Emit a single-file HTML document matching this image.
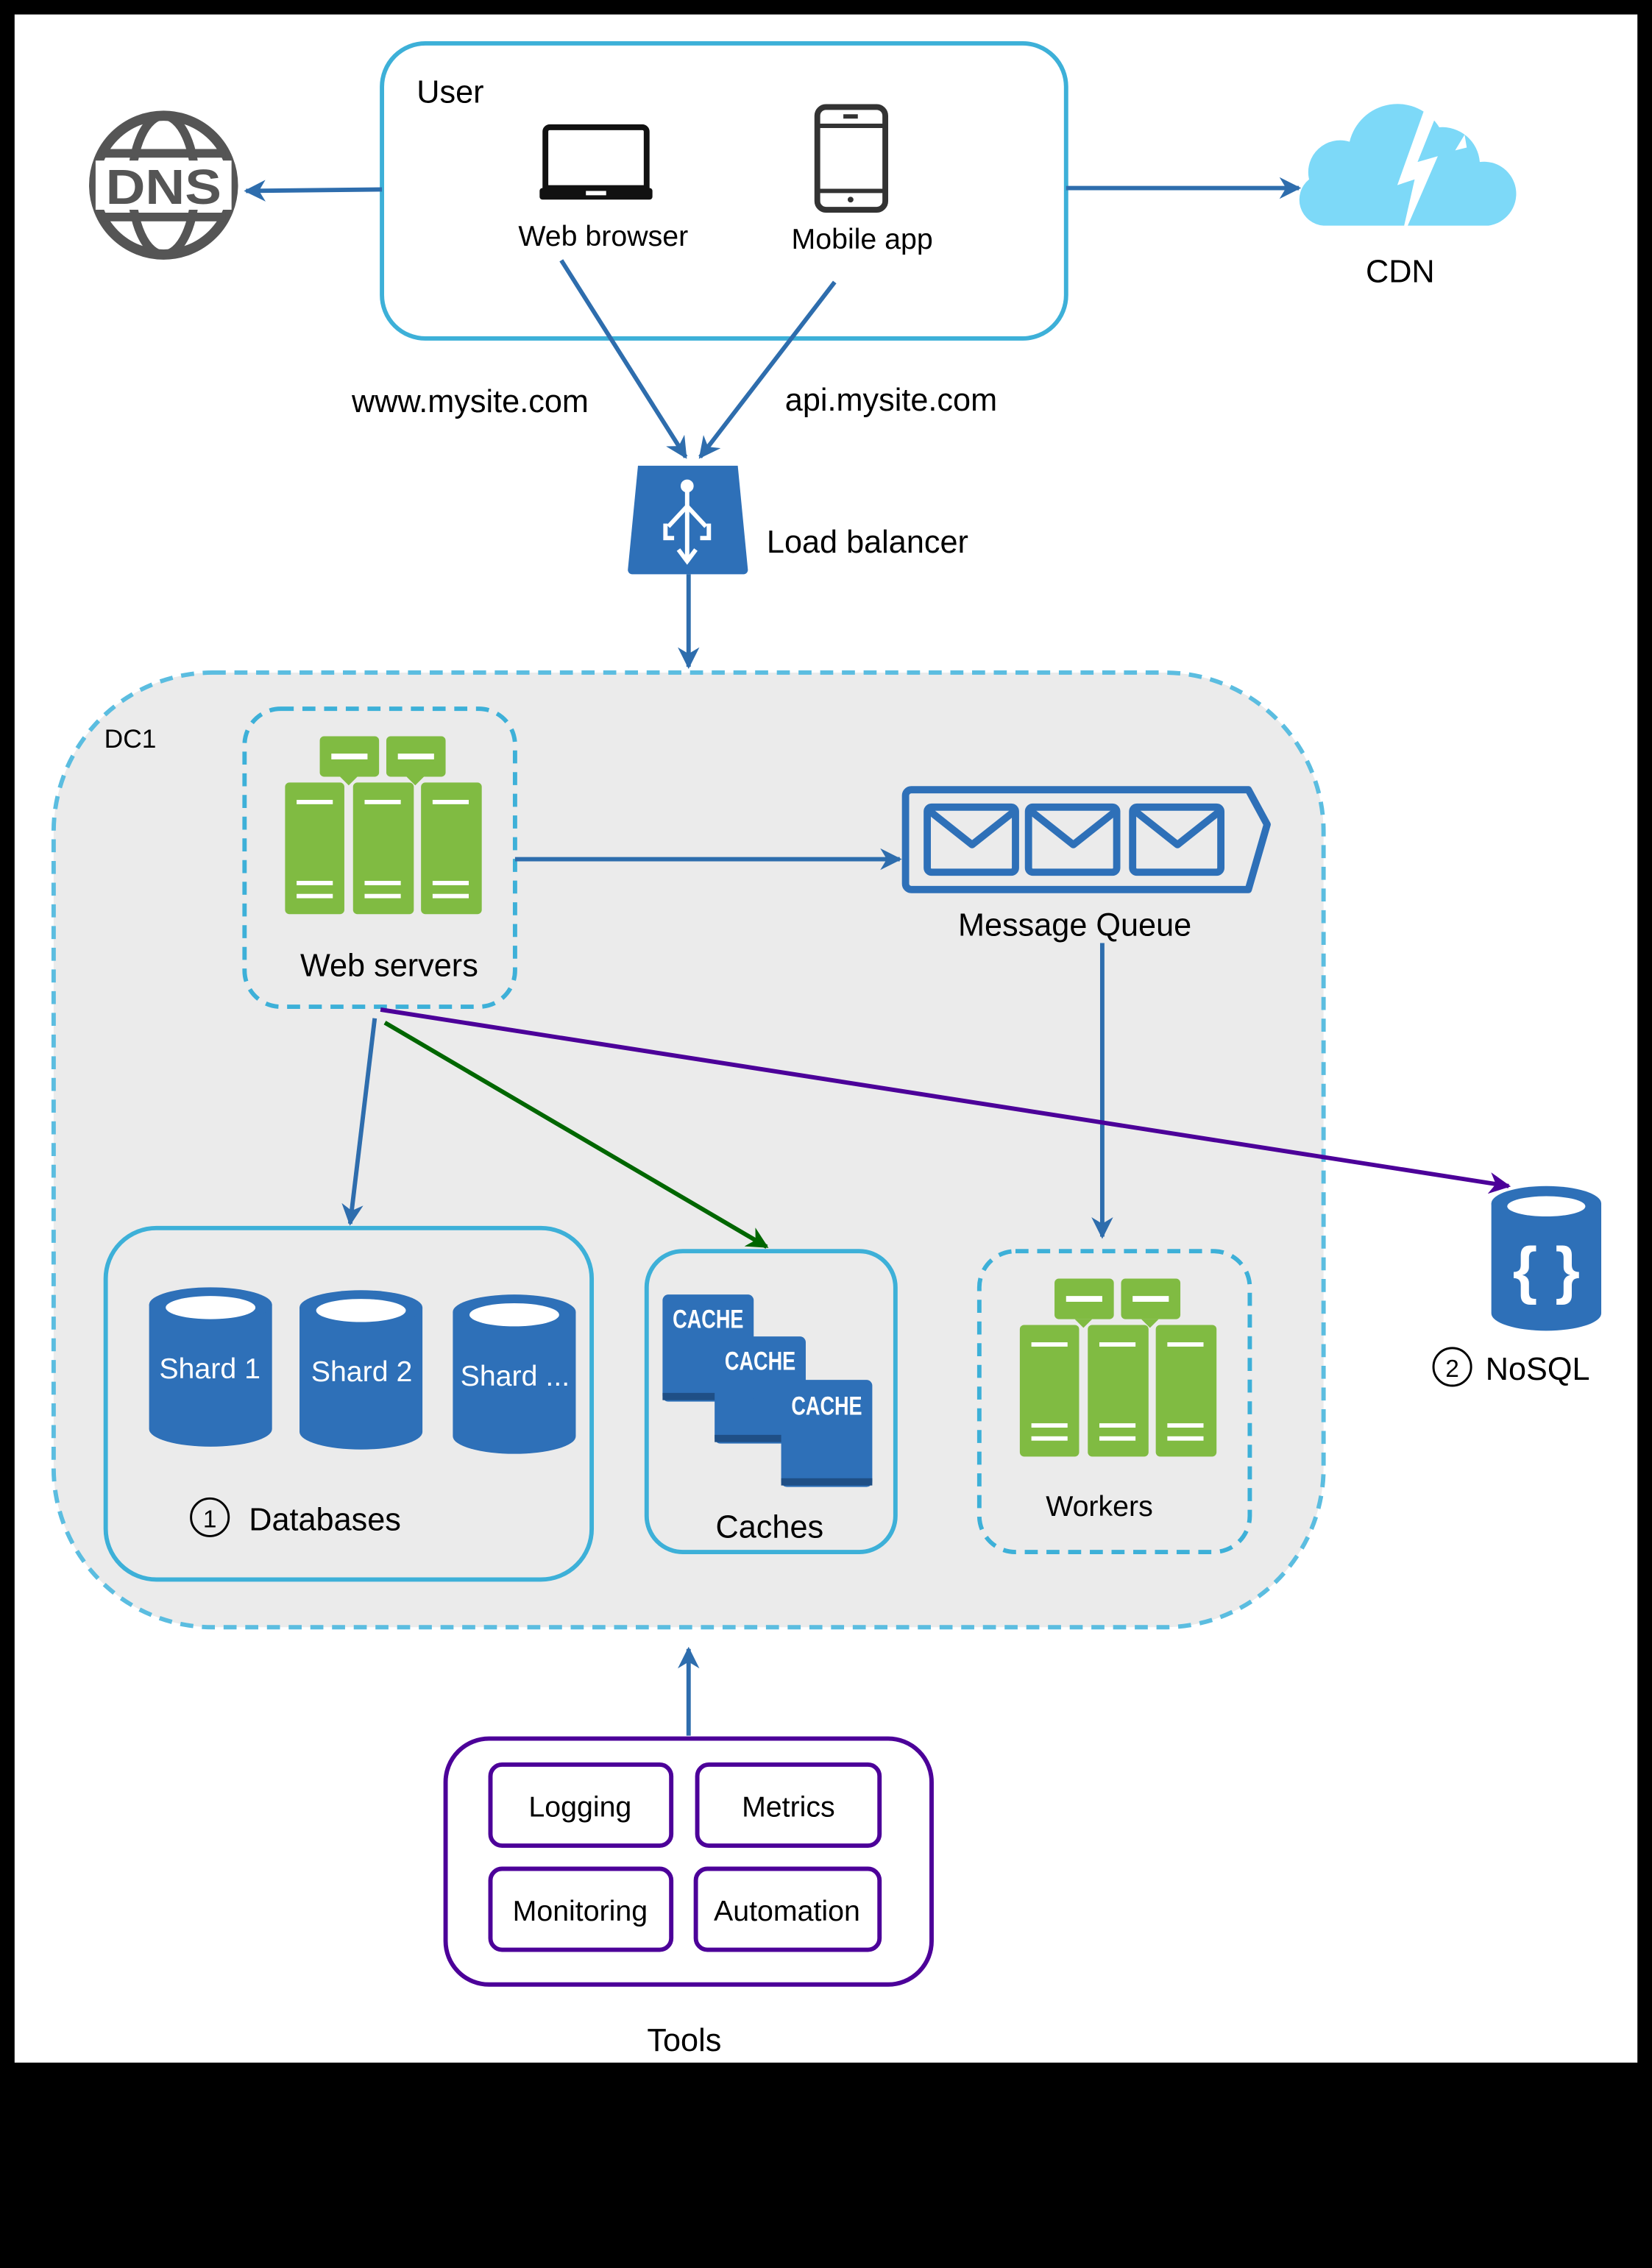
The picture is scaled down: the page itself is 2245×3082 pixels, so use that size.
<!DOCTYPE html>
<html><head><meta charset="utf-8"><style>
html,body{margin:0;padding:0;background:#000;}
svg{display:block;}
text{font-family:"Liberation Sans",Arial,sans-serif;fill:#000;}
</style></head><body>
<svg width="2245" height="3082" viewBox="0 0 1142 1568" xmlns="http://www.w3.org/2000/svg">
<defs>
<marker id="ab" viewBox="0 0 10 10" refX="9" refY="5" markerWidth="5" markerHeight="5" orient="auto"><path d="M0,0 L10,5 L0,10 L3,5 z" fill="#2E6DAD"/></marker>
<marker id="ag" viewBox="0 0 10 10" refX="9" refY="5" markerWidth="5" markerHeight="5" orient="auto"><path d="M0,0 L10,5 L0,10 L3,5 z" fill="#006600"/></marker>
<marker id="ap" viewBox="0 0 10 10" refX="9" refY="5" markerWidth="5" markerHeight="5" orient="auto"><path d="M0,0 L10,5 L0,10 L3,5 z" fill="#4C0099"/></marker>
<g id="srv">
<rect x="24" y="0" width="41" height="28" rx="3" fill="#80BB42"/><rect x="70" y="0" width="41" height="28" rx="3" fill="#80BB42"/>
<path d="M38,28 l6,6 l6,-6z M84,28 l6,6 l6,-6z" fill="#80BB42"/>
<rect x="32" y="12" width="25" height="4" fill="#fff"/><rect x="78" y="12" width="25" height="4" fill="#fff"/>
<rect x="0" y="32" width="41" height="91" rx="3" fill="#80BB42"/><rect x="47" y="32" width="42" height="91" rx="3" fill="#80BB42"/><rect x="94" y="32" width="42" height="91" rx="3" fill="#80BB42"/>
<g fill="#fff"><rect x="8" y="44" width="25" height="3"/><rect x="55" y="44" width="25" height="3"/><rect x="102" y="44" width="25" height="3"/>
<rect x="8" y="100" width="25" height="3"/><rect x="55" y="100" width="25" height="3"/><rect x="102" y="100" width="25" height="3"/>
<rect x="8" y="109" width="25" height="3"/><rect x="55" y="109" width="25" height="3"/><rect x="102" y="109" width="25" height="3"/></g>
</g>
<g id="cyl">
<path d="M0,12 v86 a42,12 0 0 0 85,0 v-86 z" fill="#2E70B8"/>
<ellipse cx="42.5" cy="12" rx="42.5" ry="12" fill="#2E70B8"/>
<ellipse cx="42.5" cy="14" rx="31" ry="8" fill="#fff"/>
</g>
</defs>
<rect x="10" y="10" width="1122" height="1416" fill="#fff"/>

<!-- User -->
<rect x="264" y="30" width="473" height="204" rx="30" fill="#fff" stroke="#3DB0D8" stroke-width="3"/>
<text x="288" y="71" font-size="22">User</text>
<path d="M380,88 h64 a3,3 0 0 1 3,3 v39 h-70 v-39 a3,3 0 0 1 3,-3z" fill="none" stroke="#111" stroke-width="4"/>
<rect x="373" y="130" width="78" height="8" rx="2" fill="#111"/><rect x="405" y="132" width="14" height="3" fill="#fff"/>
<text x="417" y="170" font-size="20" text-anchor="middle">Web browser</text>
<rect x="565" y="74" width="47" height="71" rx="6" fill="none" stroke="#333" stroke-width="4"/>
<line x1="565" y1="87" x2="612" y2="87" stroke="#333" stroke-width="3"/><line x1="565" y1="132" x2="612" y2="132" stroke="#333" stroke-width="3"/>
<rect x="583" y="79" width="10" height="3" fill="#333"/><circle cx="588" cy="138" r="2" fill="#333"/>
<text x="596" y="172" font-size="20" text-anchor="middle">Mobile app</text>

<!-- DNS -->
<circle cx="113" cy="128" r="48" fill="none" stroke="#555" stroke-width="7"/>
<ellipse cx="113" cy="128" rx="22" ry="48" fill="none" stroke="#555" stroke-width="6"/>
<line x1="70" y1="106" x2="156" y2="106" stroke="#555" stroke-width="6"/><line x1="70" y1="150" x2="156" y2="150" stroke="#555" stroke-width="6"/>
<rect x="66" y="111" width="94" height="34" fill="#fff"/>
<text x="113" y="141" font-size="34" font-weight="bold" text-anchor="middle" style="fill:#555" textLength="80" lengthAdjust="spacingAndGlyphs">DNS</text>
<line x1="264" y1="131" x2="170" y2="132" stroke="#2E6DAD" stroke-width="3" marker-end="url(#ab)"/>

<!-- CDN -->
<path d="M915,156 a18,18 0 0 1 -10,-32 a22,22 0 0 1 28,-26 a34,34 0 0 1 62,-10 a26,26 0 0 1 28,24 a20,20 0 0 1 6,44 z" fill="#7DD9F8"/>
<path d="M986,72 l10,0 l-16,40 l14,-4 l-26,60 l10,-44 l-12,4z" fill="#fff"/>
<path d="M1010,78 l8,6 l-12,20 l8,-2z" fill="#fff"/>
<text x="968" y="195" font-size="22" text-anchor="middle">CDN</text>
<line x1="737" y1="130" x2="898" y2="130" stroke="#2E6DAD" stroke-width="3" marker-end="url(#ab)"/>

<line x1="388" y1="180" x2="474" y2="316" stroke="#2E6DAD" stroke-width="3" marker-end="url(#ab)"/>
<line x1="577" y1="195" x2="484" y2="316" stroke="#2E6DAD" stroke-width="3" marker-end="url(#ab)"/>
<text x="325" y="285" font-size="22" text-anchor="middle">www.mysite.com</text>
<text x="616" y="284" font-size="22" text-anchor="middle">api.mysite.com</text>

<!-- LB -->
<path d="M441,322 h69 l7,72 a3,3 0 0 1 -3,3 h-77 a3,3 0 0 1 -3,-3z" fill="#2E70B8"/>
<g stroke="#fff" stroke-width="3" fill="none"><circle cx="475" cy="336" r="3" fill="#fff"/><line x1="475" y1="339" x2="475" y2="386"/><line x1="475" y1="350" x2="462" y2="364"/><line x1="475" y1="350" x2="488" y2="364"/><path d="M469,380 l6,8 l6,-8"/><path d="M460,362 v10 h6 M490,362 v10 h-6"/></g>
<text x="530" y="382" font-size="22">Load balancer</text>
<line x1="476" y1="397" x2="476" y2="461" stroke="#2E6DAD" stroke-width="3" marker-end="url(#ab)"/>

<!-- DC1 -->
<rect x="37" y="465" width="878" height="660" rx="110" fill="#EBEBEB" stroke="#5BBDE0" stroke-width="3" stroke-dasharray="9,6"/>
<text x="72" y="517" font-size="18">DC1</text>
<rect x="169" y="490" width="187" height="206" rx="25" fill="none" stroke="#3DB0D8" stroke-width="3" stroke-dasharray="9,6"/>
<use href="#srv" x="197" y="509"/>
<text x="269" y="675" font-size="22" text-anchor="middle">Web servers</text>
<line x1="356" y1="594" x2="622" y2="594" stroke="#2E6DAD" stroke-width="3" marker-end="url(#ab)"/>

<!-- MQ -->
<path d="M630,546 h233 l13,24 l-13,45 h-233 a4,4 0 0 1 -4,-4 v-61 a4,4 0 0 1 4,-4z" fill="none" stroke="#2E70B8" stroke-width="5" stroke-linejoin="round"/>
<g fill="none" stroke="#2E70B8" stroke-width="5" stroke-linejoin="round">
<rect x="641" y="558" width="61" height="45" rx="3"/><rect x="711" y="558" width="61" height="45" rx="3"/><rect x="783" y="558" width="61" height="45" rx="3"/>
<path d="M643,561 l29,23 l29,-23 M713,561 l29,23 l29,-23 M785,561 l29,23 l29,-23"/></g>
<text x="743" y="647" font-size="22" text-anchor="middle">Message Queue</text>
<line x1="762" y1="652" x2="762" y2="855" stroke="#2E6DAD" stroke-width="3" marker-end="url(#ab)"/>

<!-- Workers -->
<rect x="677" y="865" width="187" height="208" rx="25" fill="none" stroke="#3DB0D8" stroke-width="3" stroke-dasharray="9,6"/>
<use href="#srv" x="705" y="884"/>
<text x="760" y="1048" font-size="20" text-anchor="middle">Workers</text>

<!-- Databases -->
<rect x="73" y="849" width="336" height="243" rx="35" fill="none" stroke="#3DB0D8" stroke-width="3"/>
<use href="#cyl" x="103" y="890"/><use href="#cyl" x="207" y="892"/><use href="#cyl" x="313" y="895"/>
<g font-size="20" text-anchor="middle"><text x="145" y="953" style="fill:#fff">Shard 1</text><text x="250" y="955" style="fill:#fff">Shard 2</text><text x="356" y="958" style="fill:#fff">Shard ...</text></g>
<circle cx="145" cy="1049" r="13" fill="none" stroke="#000" stroke-width="1.5"/><text x="145" y="1056" font-size="17" text-anchor="middle">1</text>
<text x="172" y="1058" font-size="22">Databases</text>

<!-- Caches -->
<rect x="447" y="865" width="172" height="208" rx="25" fill="none" stroke="#3DB0D8" stroke-width="3"/>
<g fill="#2E70B8"><rect x="540" y="954" width="63" height="74" rx="4"/><rect x="494" y="924" width="63" height="74" rx="4"/><rect x="458" y="895" width="63" height="74" rx="4"/></g>
<g fill="#1F4F86"><rect x="540" y="1022" width="63" height="5"/><rect x="494" y="992" width="46" height="5"/><rect x="458" y="963" width="36" height="5"/></g>
<g font-size="18" font-weight="bold"><text x="465" y="918" style="fill:#fff" textLength="49" lengthAdjust="spacingAndGlyphs">CACHE</text><text x="501" y="947" style="fill:#fff" textLength="49" lengthAdjust="spacingAndGlyphs">CACHE</text><text x="547" y="978" style="fill:#fff" textLength="49" lengthAdjust="spacingAndGlyphs">CACHE</text></g>
<text x="532" y="1063" font-size="22" text-anchor="middle">Caches</text>

<line x1="259" y1="704" x2="242" y2="846" stroke="#2E6DAD" stroke-width="3" marker-end="url(#ab)"/>
<line x1="266" y1="707" x2="530" y2="862" stroke="#006600" stroke-width="3" marker-end="url(#ag)"/>
<line x1="263" y1="698" x2="1043" y2="820" stroke="#4C0099" stroke-width="3" marker-end="url(#ap)"/>

<!-- NoSQL -->
<path d="M1031,832 v76 a38,12 0 0 0 76,0 v-76z" fill="#2E70B8"/>
<ellipse cx="1069" cy="832" rx="38" ry="12" fill="#2E70B8"/><ellipse cx="1069" cy="834" rx="27" ry="7" fill="#fff"/>
<text x="1069" y="893" font-size="44" font-weight="bold" text-anchor="middle" style="fill:#fff">{ }</text>
<circle cx="1004" cy="945" r="13" fill="none" stroke="#000" stroke-width="1.5"/><text x="1004" y="952" font-size="17" text-anchor="middle">2</text>
<text x="1027" y="954" font-size="22">NoSQL</text>

<!-- Tools -->
<line x1="476" y1="1200" x2="476" y2="1140" stroke="#2E6DAD" stroke-width="3" marker-end="url(#ab)"/>
<rect x="308" y="1202" width="336" height="170" rx="30" fill="#fff" stroke="#4C0099" stroke-width="3"/>
<g fill="none" stroke="#4C0099" stroke-width="3"><rect x="339" y="1220" width="125" height="56" rx="8"/><rect x="482" y="1220" width="126" height="56" rx="8"/><rect x="339" y="1292" width="125" height="56" rx="8"/><rect x="481" y="1292" width="127" height="56" rx="8"/></g>
<g font-size="20" text-anchor="middle"><text x="401" y="1256">Logging</text><text x="545" y="1256">Metrics</text><text x="401" y="1328">Monitoring</text><text x="544" y="1328">Automation</text></g>
<text x="473" y="1418" font-size="22" text-anchor="middle">Tools</text>
</svg>
</body></html>
